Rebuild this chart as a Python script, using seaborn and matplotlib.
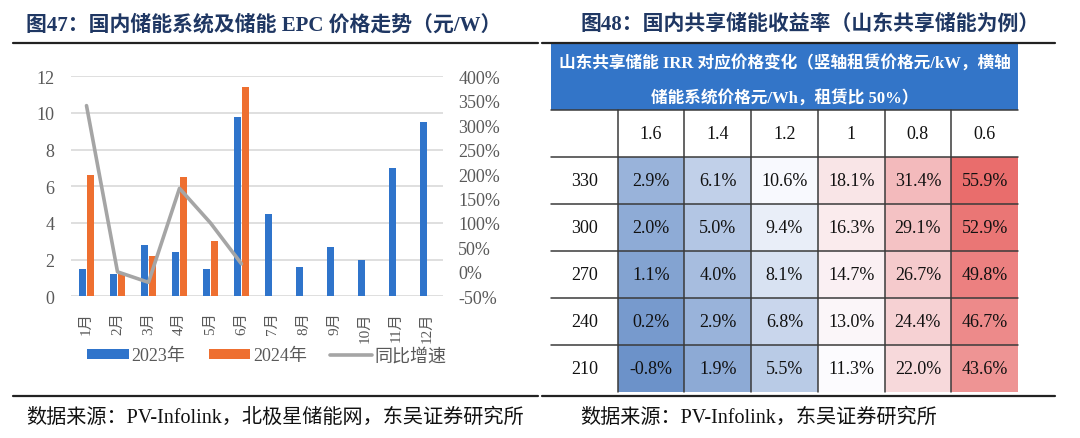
import numpy as np
import pandas as pd
import matplotlib
matplotlib.use('Agg')
import matplotlib.pyplot as plt
import seaborn as sns
from matplotlib.colors import LinearSegmentedColormap, TwoSlopeNorm
from matplotlib.lines import Line2D
from matplotlib.patches import Rectangle
from matplotlib.ticker import FuncFormatter

# data: left chart (元/W)
months = ['1月', '2月', '3月', '4月', '5月', '6月', '7月', '8月', '9月', '10月', '11月', '12月']
price_2023 = [1.5, 1.2, 2.8, 2.4, 1.5, 9.8, 4.5, 1.6, 2.7, 2.0, 7.0, 9.5]
price_2024 = [6.6, 1.2, 2.2, 6.5, 3.0, 11.4]

# data: right table (IRR %)
rent_price = ['330', '300', '270', '240', '210']
sys_price = ['1.6', '1.4', '1.2', '1', '0.8', '0.6']
irr_330 = [2.9, 6.1, 10.6, 18.1, 31.4, 55.9]
irr_300 = [2.0, 5.0, 9.4, 16.3, 29.1, 52.9]
irr_270 = [1.1, 4.0, 8.1, 14.7, 26.7, 49.8]
irr_240 = [0.2, 2.9, 6.8, 13.0, 24.4, 46.7]
irr_210 = [-0.8, 1.9, 5.5, 11.3, 22.0, 43.6]

sns.set_style('white')
plt.rcParams['font.family'] = ['Liberation Serif', 'Noto Sans CJK SC', 'DejaVu Sans']
plt.rcParams['axes.unicode_minus'] = False

W, H = 1080, 439
fig = plt.figure(figsize=(W / 100, H / 100), dpi=100)

def fx(px):
    return px / W

def fy(py):
    return 1 - py / H

# ---------- left: bars + growth line ----------
n24 = len(price_2024)
df = pd.DataFrame({
    'month': months * 2,
    'price': price_2023 + price_2024 + [np.nan] * (len(months) - n24),
    'year': ['2023年'] * len(months) + ['2024年'] * len(months),
})
growth = (np.array(price_2024) / np.array(price_2023[:n24]) - 1) * 100

ax = fig.add_axes([fx(71), fy(297.3), fx(443 - 71), (297.3 - 77.3) / H])
sns.barplot(data=df, x='month', y='price', hue='year', order=months,
            hue_order=['2023年', '2024年'], palette=['#2F74CB', '#EE6F30'],
            width=0.5, gap=0.1, saturation=1, errorbar=None, linewidth=0, ax=ax)
ax.set_ylim(0, 12)
ax.set_yticks(range(0, 13, 2))
ax.grid(axis='y', color='#D9D9D9', lw=1.2)
ax.set_axisbelow(True)
ax.set_xlabel('')
ax.set_ylabel('')
for s in ax.spines.values():
    s.set_visible(False)
ax.tick_params(axis='y', length=0, pad=12, labelsize=13, labelcolor='#595959')
ax.tick_params(axis='x', length=0, pad=11, labelsize=11, labelcolor='#595959')
for lab in ax.get_xticklabels():
    lab.set_rotation(90)
    lab.set_va('top')

ax2 = ax.twinx()
sns.lineplot(x=np.arange(n24), y=growth, ax=ax2, color='#A5A5A5', lw=2.6,
             label='同比增速')
ax2.set_ylim(-50, 400)
ax2.set_yticks(range(-50, 401, 50))
ax2.yaxis.set_major_formatter(FuncFormatter(lambda v, p: f'{v:.0f}%'))
ax2.tick_params(axis='y', length=0, pad=11, labelsize=13, labelcolor='#595959')
ax2.set_ylabel('')
for s in ax2.spines.values():
    s.set_visible(False)
ax.set_xlim(-0.5, len(months) - 0.5)

h1, l1 = ax.get_legend_handles_labels()
h2, l2 = ax2.get_legend_handles_labels()
ax.get_legend().remove()
ax2.get_legend().remove()
leg = fig.legend(h1 + h2, l1 + l2, loc='center', bbox_to_anchor=(fx(267), fy(357)),
                 ncol=3, frameon=False, fontsize=13, handlelength=2.3,
                 handleheight=0.5, handletextpad=0.15, columnspacing=1.3)
for t in leg.get_texts():
    t.set_color('#595959')

# ---------- right: IRR table ----------
irr = pd.DataFrame([irr_330, irr_300, irr_270, irr_240, irr_210],
                   index=rent_price, columns=sys_price)
labels = irr.map(lambda v: f'{v:.1f}%')
cmap = LinearSegmentedColormap.from_list('bwr_xl', ['#6C92C9', '#FCFCFF', '#E96D6C'])
norm = TwoSlopeNorm(vmin=irr.values.min(), vcenter=np.median(irr.values),
                    vmax=irr.values.max())

row_h = 47
axt = fig.add_axes([fx(617.7), fy(393), fx(1018 - 617.7), (393 - 158) / H])
sns.heatmap(irr, cmap=cmap, norm=norm, annot=labels, fmt='', cbar=False,
            linewidths=0, annot_kws={'fontsize': 13, 'color': '#111111'}, ax=axt)
axt.set_xticks([])
axt.set_yticks([])
axt.set_xlabel('')
axt.set_ylabel('')

# blue caption box above the column header row
box_top = -1 - (111 - 45) / row_h
axt.add_patch(Rectangle((-1, box_top), len(sys_price) + 1, (111 - 45) / row_h,
                        facecolor='#3375C8', edgecolor='none', clip_on=False))
axt.text(2.5, (64.5 - 158) / row_h, '山东共享储能 IRR 对应价格变化（竖轴租赁价格元/kW，横轴',
         ha='center', va='center', color='white', fontsize=12, fontweight='bold')
axt.text(2.5, (99 - 158) / row_h, '储能系统价格元/Wh，租赁比 50%）',
         ha='center', va='center', color='white', fontsize=12, fontweight='bold')

for j, c in enumerate(sys_price):
    axt.text(j + 0.5, -0.5, c, ha='center', va='center', fontsize=13, color='#111111')
for i, r in enumerate(rent_price):
    axt.text(-0.5, i + 0.5, r, ha='center', va='center', fontsize=13, color='#111111')

for yy in range(-1, len(rent_price)):
    axt.plot([-1, len(sys_price)], [yy, yy], color='#3A3A3A', lw=1.1, clip_on=False)
for xx in range(0, len(sys_price)):
    axt.plot([xx, xx], [-1, len(rent_price)], color='#3A3A3A', lw=1.1, clip_on=False)
axt.set_xlim(0, len(sys_price))
axt.set_ylim(len(rent_price), 0)

# ---------- titles, rules, sources ----------
title_kw = dict(fontsize=15, fontweight='bold', color='#1F3763', va='center', ha='left')
fig.text(fx(26), fy(25), '图47：国内储能系统及储能 EPC 价格走势（元/W）', **title_kw)
fig.text(fx(581), fy(25), '图48：国内共享储能收益率（山东共享储能为例）', **title_kw)

for x0, x1 in [(13, 538), (542, 1055)]:
    for yy in (44, 397):
        fig.add_artist(Line2D([fx(x0), fx(x1)], [fy(yy), fy(yy)], transform=fig.transFigure,
                              color='#222222', lw=1.6))

src_kw = dict(fontsize=14.5, color='#111111', va='center', ha='left')
fig.text(fx(26), fy(418), '数据来源：PV-Infolink，北极星储能网，东吴证券研究所', **src_kw)
fig.text(fx(580), fy(418), '数据来源：PV-Infolink，东吴证券研究所', **src_kw)

fig.savefig('out.png', dpi=100)
